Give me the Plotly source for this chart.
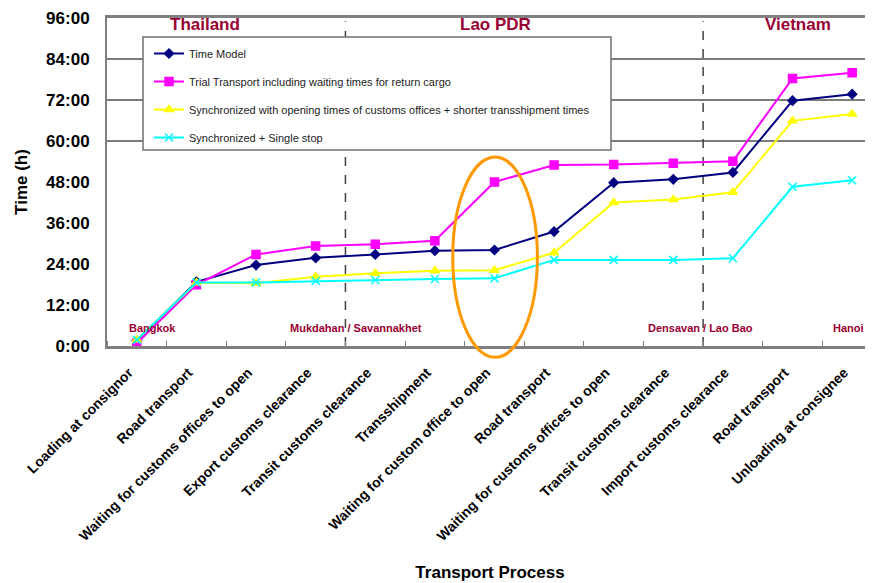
import plotly.graph_objects as go

steps = [
    "Loading at consignor", "Road transport", "Waiting for customs offices to open",
    "Export customs clearance", "Transit customs clearance", "Transshipment",
    "Waiting for custom office to open", "Road transport",
    "Waiting for customs offices to open", "Transit customs clearance",
    "Import customs clearance", "Road transport", "Unloading at consignee",
]
time_model = [1.5, 18.8, 23.7, 25.8, 26.8, 27.9, 28.1, 33.5, 47.8, 48.8, 50.8, 71.8, 73.7]
trial_transport = [0.8, 17.9, 26.8, 29.3, 29.8, 30.8, 48.0, 53.0, 53.1, 53.5, 54.1, 78.3, 80.0]
synchronized = [1.8, 18.5, 18.4, 20.3, 21.3, 22.0, 22.2, 27.3, 42.0, 42.9, 45.0, 65.9, 67.9]
single_stop = [1.8, 18.6, 18.6, 19.0, 19.3, 19.6, 19.8, 25.2, 25.2, 25.2, 25.7, 46.6, 48.5]

series_names = [
    "Time Model",
    "Trial Transport including waiting times for return cargo",
    "Synchronized with opening times of customs offices + shorter transshipment times",
    "Synchronized + Single stop",
]
y_ticks = [0, 12, 24, 36, 48, 60, 72, 84, 96]
y_tick_labels = ["0:00", "12:00", "24:00", "36:00", "48:00", "60:00", "72:00", "84:00", "96:00"]
grid_values = [60, 72, 84]
countries = ["Thailand", "Lao PDR", "Vietnam"]
country_x = [1.14, 6.01, 11.09]
border_x = [3.5, 9.5]
cities = ["Bangkok", "Mukdahan / Savannakhet", "Densavan / Lao Bao", "Hanoi"]
city_x = [0.26, 3.68, 9.45, 11.94]
highlight_index = 6

FONT = "Arial, 'Liberation Sans', sans-serif"
RED = "#990033"
x_min, x_max = -0.5, 12.35

x = list(range(len(steps)))
fig = go.Figure()
styles = [
    dict(color="#000080", symbol="diamond", size=7),
    dict(color="#FF00FF", symbol="square", size=8),
    dict(color="#FFFF00", symbol="triangle-up", size=8),
    dict(color="#00FFFF", symbol="x-thin", size=8),
]
for i, (name, vals, st) in enumerate(zip(series_names,
                                         [time_model, trial_transport, synchronized, single_stop],
                                         styles)):
    fig.add_trace(go.Scatter(
        x=x, y=vals, name=name, mode="lines+markers", legendgroup=f"g{i}",
        line=dict(color=st["color"], width=2),
        marker=dict(color=st["color"], symbol=st["symbol"], size=st["size"],
                    line=dict(color=st["color"], width=1.5)),
        cliponaxis=False,
    ))

shapes = []
for g in grid_values:
    shapes.append(dict(type="line", xref="paper", yref="y", x0=0, x1=1, y0=g, y1=g,
                       line=dict(color="#505050", width=1.5), layer="below"))
for bx in border_x:
    shapes.append(dict(type="line", xref="x", yref="paper", x0=bx, x1=bx, y0=0, y1=0.99,
                       line=dict(color="#404040", width=1.5, dash="dash"), layer="below"))
# legend box
shapes.append(dict(type="rect", xref="paper", yref="paper",
                   x0=(143 - 107) / 766, x1=(611 - 107) / 766,
                   y0=(346 - 150) / 328, y1=(346 - 37) / 328,
                   fillcolor="white", line=dict(color="#707070", width=1.5), layer="above"))
# highlight ellipse around the waiting step
span = x_max - x_min
hx0 = (highlight_index - 0.7 - x_min) / span
hx1 = (highlight_index + 0.72 - x_min) / span
shapes.append(dict(type="circle", xref="paper", yref="paper",
                   x0=hx0, x1=hx1, y0=-3.3 / 96, y1=55.3 / 96,
                   line=dict(color="#FF9900", width=3), layer="above"))

annotations = []
for name, cx in zip(countries, country_x):
    annotations.append(dict(x=cx, y=0.979, xref="x", yref="paper", text=f"<b>{name}</b>",
                            showarrow=False, font=dict(family=FONT, size=17, color=RED),
                            xanchor="center", yanchor="middle"))
for name, cx in zip(cities, city_x):
    annotations.append(dict(x=cx, y=5.4, xref="x", yref="y", text=f"<b>{name}</b>",
                            showarrow=False, font=dict(family=FONT, size=11, color=RED),
                            xanchor="center", yanchor="middle"))

# the page body adds an 8px offset, so the figure is laid out 8px up/left
fig.update_layout(
    width=873, height=583,
    margin=dict(l=99, r=8, t=10, b=245, autoexpand=False),
    paper_bgcolor="white", plot_bgcolor="white",
    font=dict(family=FONT, color="black"),
    showlegend=True,
    legend=dict(x=(149 - 107) / 766, y=(346 - 39) / 328, xanchor="left", yanchor="top",
                bgcolor="rgba(0,0,0,0)", borderwidth=0, tracegroupgap=9,
                font=dict(family=FONT, size=11, color="#222222")),
    shapes=shapes,
    annotations=annotations,
    xaxis=dict(
        range=[x_min, x_max], tickvals=x, ticktext=[f"<b>{s}</b>" for s in steps],
        tickangle=-45, tickfont=dict(family=FONT, size=14, color="black"),
        ticklabelstandoff=10, ticklabelshift=-8,
        showgrid=False, zeroline=False, showline=True, linecolor="#808080", linewidth=3,
        mirror=True, ticks="", automargin=False,
        minor=dict(tickvals=[i + 0.5 for i in range(-1, len(steps))], ticks="inside",
                   ticklen=5, tickcolor="#808080", tickwidth=1, showgrid=False),
        title=dict(text="<b>Transport Process</b>", font=dict(family=FONT, size=17), standoff=24),
    ),
    yaxis=dict(
        range=[0, 96], tickvals=y_ticks, ticktext=[f"<b>{t}</b>" for t in y_tick_labels],
        tickfont=dict(family=FONT, size=17, color="black"), ticklabelstandoff=12,
        showgrid=False, zeroline=False, showline=True, linecolor="#808080", linewidth=2,
        ticks="", automargin=False,
        title=dict(text="<b>Time (h)</b>", font=dict(family=FONT, size=17), standoff=14),
    ),
)

fig.write_html("out.html")
